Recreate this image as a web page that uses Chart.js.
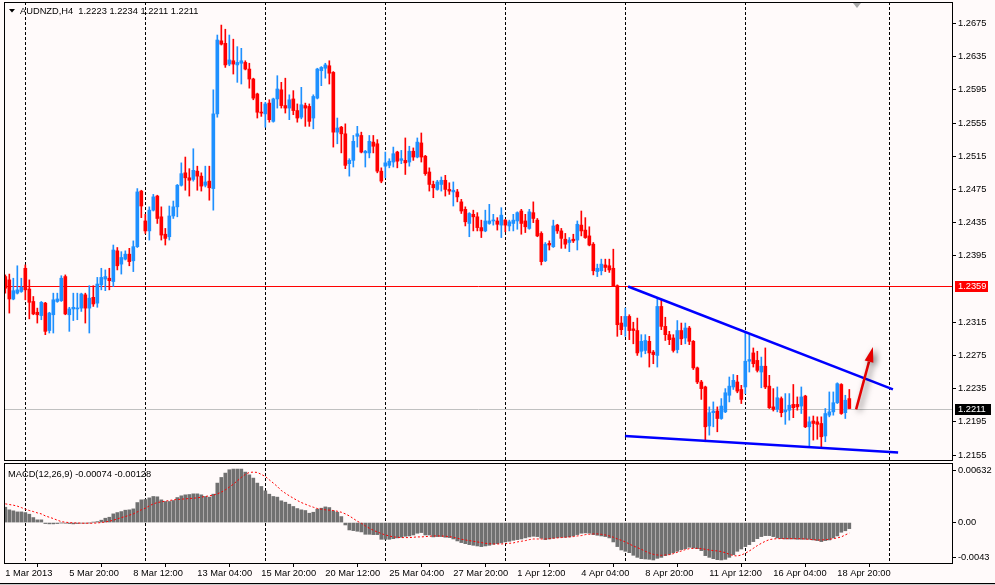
<!DOCTYPE html>
<html>
<head>
<meta charset="utf-8">
<script src="https://cdn.jsdelivr.net/npm/chart.js@4.4.1/dist/chart.umd.min.js"></script>
<style>
  html, body { margin: 0; padding: 0; background: #fffafa; }
  #wrap { position: relative; width: 995px; height: 585px; overflow: hidden; background: #fffafa; }
  canvas { position: absolute; left: 0; }
  #priceChart { top: 0; }
  #macdChart { top: 462px; }
</style>
</head>
<body>
<div id="wrap">
  <canvas id="priceChart" width="995" height="462"></canvas>
  <canvas id="macdChart" width="995" height="123"></canvas>
</div>
<script>
// AUDNZD H4 candles
const symbolTitle = "AUDNZD,H4  1.2223 1.2234 1.2211 1.2211";
const macdTitle = "MACD(12,26,9) -0.00074 -0.00128";

const opens = [
  1.2370,1.2366,1.2343,1.2350,1.2352,1.2380,1.2355,1.2340,1.2327,1.2323,
  1.2338,1.2305,1.2324,1.2340,1.2341,1.2370,1.2324,1.2331,1.2331,1.2332,
  1.2348,1.2332,1.2345,1.2338,1.2360,1.2367,1.2368,1.2364,1.2401,1.2385,
  1.2391,1.2397,1.2389,1.2406,1.2473,1.2437,1.2425,1.2450,1.2467,1.2442,
  1.2421,1.2418,1.2443,1.2454,1.2480,1.2495,1.2489,1.2487,1.2497,1.2491,
  1.2480,1.2485,1.2476,1.2566,1.2654,1.2651,1.2626,1.2630,1.2625,1.2627,
  1.2628,1.2620,1.2608,1.2590,1.2568,1.2566,1.2579,1.2557,1.2584,1.2595,
  1.2576,1.2573,1.2584,1.2570,1.2562,1.2576,1.2575,1.2561,1.2585,1.2618,
  1.2621,1.2624,1.2616,1.2544,1.2550,1.2542,1.2506,1.2510,1.2539,1.2540,
  1.2519,1.2519,1.2532,1.2530,1.2497,1.2503,1.2504,1.2508,1.2520,1.2510,
  1.2510,1.2508,1.2521,1.2514,1.2531,1.2515,1.2496,1.2481,1.2475,1.2481,
  1.2486,1.2475,1.2472,1.2472,1.2460,1.2451,1.2434,1.2445,1.2442,1.2429,
  1.2425,1.2434,1.2437,1.2437,1.2432,1.2438,1.2431,1.2434,1.2437,1.2449,
  1.2437,1.2428,1.2447,1.2438,1.2422,1.2389,1.2410,1.2406,1.2432,1.2425,
  1.2415,1.2411,1.2415,1.2414,1.2432,1.2426,1.2419,1.2409,1.2376,1.2377,
  1.2384,1.2383,1.2380,1.2359,1.2314,1.2310,1.2322,1.2307,1.2305,1.2280,
  1.2281,1.2292,1.2279,1.2275,1.2334,1.2310,1.2300,1.2296,1.2282,1.2305,
  1.2296,1.2308,1.2292,1.2260,1.2243,1.2237,1.2190,1.2206,1.2208,1.2199,
  1.2207,1.2227,1.2237,1.2243,1.2234,1.2237,1.2268,1.2278,1.2269,1.2255,
  1.2262,1.2238,1.2213,1.2210,1.2223,1.2207,1.2209,1.2216,1.2216,1.2214,
  1.2226,1.2189,1.2196,1.2195,1.2193,1.2178,1.2203,1.2207,1.2218,1.2240,
  1.2206,1.2223
];
const highs = [
  1.2372,1.2373,1.2368,1.2383,1.2368,1.2384,1.2366,1.2346,1.2332,1.2340,
  1.2339,1.2327,1.2350,1.2350,1.2371,1.2372,1.2333,1.2350,1.2350,1.2350,
  1.2350,1.2359,1.2359,1.2369,1.2380,1.2378,1.2380,1.2408,1.2405,1.2400,
  1.2401,1.2404,1.2413,1.2476,1.2474,1.2445,1.2454,1.2469,1.2468,1.2454,
  1.2428,1.2455,1.2461,1.2481,1.2507,1.2514,1.2500,1.2524,1.2503,1.2495,
  1.2503,1.2503,1.2595,1.2661,1.2673,1.2668,1.2661,1.2656,1.2647,1.2645,
  1.2630,1.2627,1.2609,1.2591,1.2580,1.2580,1.2583,1.2585,1.2612,1.2604,
  1.2609,1.2589,1.2594,1.2578,1.2598,1.2579,1.2578,1.2589,1.2621,1.2623,
  1.2627,1.2630,1.2617,1.2561,1.2551,1.2554,1.2512,1.2540,1.2551,1.2544,
  1.2522,1.2540,1.2540,1.2535,1.2501,1.2520,1.2512,1.2526,1.2521,1.2522,
  1.2537,1.2527,1.2525,1.2537,1.2543,1.2516,1.2501,1.2485,1.2486,1.2490,
  1.2492,1.2483,1.2484,1.2475,1.2463,1.2454,1.2447,1.2450,1.2447,1.2438,
  1.2450,1.2457,1.2445,1.2441,1.2453,1.2439,1.2438,1.2445,1.2448,1.2451,
  1.2445,1.2451,1.2460,1.2440,1.2424,1.2411,1.2413,1.2438,1.2433,1.2428,
  1.2422,1.2417,1.2421,1.2437,1.2449,1.2441,1.2430,1.2411,1.2385,1.2391,
  1.2391,1.2391,1.2403,1.2360,1.2322,1.2332,1.2324,1.2315,1.2320,1.2300,
  1.2300,1.2298,1.2281,1.2344,1.2342,1.2321,1.2304,1.2300,1.2317,1.2314,
  1.2314,1.2310,1.2293,1.2261,1.2245,1.2238,1.2213,1.2219,1.2213,1.2223,
  1.2235,1.2249,1.2252,1.2251,1.2239,1.2302,1.2300,1.2284,1.2280,1.2273,
  1.2284,1.2251,1.2235,1.2237,1.2225,1.2229,1.2229,1.2240,1.2225,1.2237,
  1.2227,1.2201,1.2202,1.2201,1.2201,1.2211,1.2231,1.2231,1.2242,1.2241,
  1.2227,1.2234
];
const lows = [
  1.2350,1.2326,1.2342,1.2349,1.2351,1.2342,1.2319,1.2324,1.2314,1.2318,
  1.2300,1.2302,1.2302,1.2339,1.2340,1.2324,1.2304,1.2317,1.2318,1.2328,
  1.2314,1.2302,1.2334,1.2333,1.2354,1.2353,1.2354,1.2358,1.2378,1.2373,
  1.2390,1.2383,1.2376,1.2405,1.2441,1.2422,1.2414,1.2449,1.2434,1.2414,
  1.2408,1.2414,1.2440,1.2442,1.2479,1.2474,1.2467,1.2485,1.2474,1.2473,
  1.2478,1.2462,1.2450,1.2562,1.2649,1.2622,1.2624,1.2614,1.2604,1.2602,
  1.2619,1.2597,1.2583,1.2561,1.2563,1.2550,1.2556,1.2556,1.2573,1.2573,
  1.2567,1.2559,1.2565,1.2556,1.2560,1.2551,1.2551,1.2548,1.2584,1.2600,
  1.2609,1.2602,1.2526,1.2530,1.2519,1.2500,1.2491,1.2502,1.2526,1.2519,
  1.2502,1.2513,1.2519,1.2495,1.2483,1.2489,1.2501,1.2502,1.2501,1.2506,
  1.2493,1.2503,1.2510,1.2513,1.2508,1.2492,1.2473,1.2465,1.2474,1.2473,
  1.2467,1.2469,1.2455,1.2460,1.2446,1.2431,1.2418,1.2425,1.2425,1.2417,
  1.2424,1.2433,1.2432,1.2426,1.2417,1.2424,1.2425,1.2425,1.2427,1.2421,
  1.2423,1.2427,1.2435,1.2418,1.2384,1.2388,1.2402,1.2405,1.2422,1.2404,
  1.2404,1.2400,1.2411,1.2402,1.2419,1.2416,1.2407,1.2372,1.2370,1.2372,
  1.2376,1.2375,1.2358,1.2298,1.2300,1.2298,1.2294,1.2289,1.2275,1.2273,
  1.2277,1.2261,1.2265,1.2261,1.2306,1.2293,1.2288,1.2279,1.2278,1.2288,
  1.2289,1.2288,1.2258,1.2241,1.2222,1.2171,1.2179,1.2189,1.2183,1.2198,
  1.2206,1.2219,1.2234,1.2230,1.2217,1.2229,1.2255,1.2261,1.2255,1.2236,
  1.2235,1.2211,1.2208,1.2207,1.2201,1.2192,1.2197,1.2200,1.2209,1.2205,
  1.2188,1.2164,1.2173,1.2174,1.2165,1.2171,1.2201,1.2203,1.2217,1.2204,
  1.2199,1.2211
];
const closes = [
  1.2356,1.2343,1.2353,1.2354,1.2357,1.2354,1.2339,1.2325,1.2324,1.2339,
  1.2304,1.2326,1.2342,1.2343,1.2368,1.2325,1.2331,1.2333,1.2332,1.2349,
  1.2332,1.2344,1.2337,1.2361,1.2369,1.2370,1.2365,1.2402,1.2383,1.2393,
  1.2397,1.2388,1.2406,1.2472,1.2455,1.2425,1.2450,1.2466,1.2440,1.2420,
  1.2416,1.2443,1.2454,1.2480,1.2494,1.2489,1.2486,1.2498,1.2491,1.2479,
  1.2484,1.2477,1.2566,1.2655,1.2650,1.2625,1.2631,1.2626,1.2628,1.2630,
  1.2620,1.2608,1.2585,1.2568,1.2567,1.2578,1.2559,1.2584,1.2596,1.2576,
  1.2573,1.2583,1.2570,1.2561,1.2577,1.2573,1.2557,1.2587,1.2620,1.2622,
  1.2625,1.2615,1.2544,1.2549,1.2542,1.2504,1.2510,1.2533,1.2542,1.2520,
  1.2521,1.2533,1.2527,1.2497,1.2485,1.2507,1.2509,1.2518,1.2509,1.2512,
  1.2507,1.2521,1.2514,1.2532,1.2514,1.2494,1.2481,1.2477,1.2484,1.2486,
  1.2475,1.2473,1.2474,1.2466,1.2449,1.2436,1.2446,1.2442,1.2429,1.2425,
  1.2437,1.2437,1.2438,1.2433,1.2444,1.2432,1.2436,1.2438,1.2447,1.2434,
  1.2430,1.2448,1.2440,1.2419,1.2388,1.2409,1.2408,1.2431,1.2425,1.2416,
  1.2409,1.2414,1.2413,1.2433,1.2425,1.2417,1.2408,1.2377,1.2380,1.2385,
  1.2381,1.2378,1.2359,1.2312,1.2306,1.2322,1.2305,1.2305,1.2278,1.2292,
  1.2293,1.2278,1.2276,1.2334,1.2310,1.2300,1.2294,1.2281,1.2305,1.2295,
  1.2308,1.2292,1.2260,1.2243,1.2235,1.2189,1.2206,1.2208,1.2199,1.2214,
  1.2230,1.2238,1.2245,1.2232,1.2222,1.2268,1.2270,1.2265,1.2257,1.2262,
  1.2237,1.2212,1.2210,1.2224,1.2206,1.2209,1.2215,1.2212,1.2213,1.2225,
  1.2189,1.2195,1.2193,1.2192,1.2177,1.2205,1.2207,1.2218,1.2241,1.2205,
  1.2221,1.2211
];

// MACD(12,26,9) main (histogram) and signal (dotted)
const macdHist = [
  0.00187,0.00155,0.00143,0.00130,0.00130,0.00122,0.00102,0.00061,0.00033,0.00033,
  -0.00012,-0.00016,-0.00016,-0.00012,-0.00004,-0.00008,-0.00012,-0.00016,-0.00012,-0.00008,
  -0.00008,-0.00004,0.00004,0.00012,0.00029,0.00053,0.00065,0.00106,0.00122,0.00134,
  0.00151,0.00155,0.00167,0.00244,0.00277,0.00281,0.00301,0.00318,0.00314,0.00277,
  0.00257,0.00257,0.00269,0.00305,0.00326,0.00338,0.00342,0.00350,0.00350,0.00338,
  0.00318,0.00310,0.00346,0.00481,0.00550,0.00603,0.00644,0.00652,0.00652,0.00652,
  0.00615,0.00582,0.00542,0.00481,0.00440,0.00387,0.00346,0.00318,0.00310,0.00265,
  0.00248,0.00224,0.00196,0.00171,0.00155,0.00147,0.00114,0.00126,0.00163,0.00175,
  0.00191,0.00183,0.00143,0.00126,0.00073,-0.00029,-0.00090,-0.00098,-0.00106,-0.00114,
  -0.00143,-0.00143,-0.00147,-0.00147,-0.00204,-0.00204,-0.00204,-0.00196,-0.00187,-0.00179,
  -0.00167,-0.00163,-0.00151,-0.00130,-0.00122,-0.00151,-0.00151,-0.00175,-0.00171,-0.00171,
  -0.00179,-0.00183,-0.00200,-0.00224,-0.00244,-0.00257,-0.00269,-0.00277,-0.00285,-0.00293,
  -0.00285,-0.00277,-0.00265,-0.00257,-0.00248,-0.00236,-0.00228,-0.00216,-0.00208,-0.00200,
  -0.00187,-0.00175,-0.00167,-0.00171,-0.00191,-0.00208,-0.00200,-0.00191,-0.00183,-0.00179,
  -0.00179,-0.00175,-0.00163,-0.00147,-0.00130,-0.00126,-0.00130,-0.00147,-0.00155,-0.00163,
  -0.00171,-0.00187,-0.00236,-0.00293,-0.00334,-0.00350,-0.00367,-0.00399,-0.00424,-0.00440,
  -0.00444,-0.00448,-0.00456,-0.00436,-0.00424,-0.00403,-0.00387,-0.00367,-0.00350,-0.00330,
  -0.00318,-0.00301,-0.00310,-0.00318,-0.00342,-0.00403,-0.00424,-0.00440,-0.00452,-0.00456,
  -0.00448,-0.00424,-0.00391,-0.00350,-0.00322,-0.00293,-0.00269,-0.00232,-0.00196,-0.00171,
  -0.00159,-0.00159,-0.00171,-0.00187,-0.00196,-0.00200,-0.00200,-0.00200,-0.00204,-0.00204,
  -0.00204,-0.00204,-0.00212,-0.00220,-0.00232,-0.00220,-0.00212,-0.00187,-0.00163,-0.00118,
  -0.00100,-0.00074
];
const macdSignal = [
  0.00228,0.00220,0.00212,0.00200,0.00183,0.00163,0.00147,0.00134,0.00118,0.00106,
  0.00081,0.00065,0.00049,0.00029,0.00012,0.00004,0.00000,-0.00004,-0.00004,-0.00008,
  -0.00008,-0.00008,-0.00008,-0.00004,0.00000,0.00008,0.00016,0.00029,0.00045,0.00061,
  0.00073,0.00090,0.00106,0.00130,0.00155,0.00175,0.00204,0.00228,0.00244,0.00253,
  0.00261,0.00269,0.00277,0.00281,0.00285,0.00289,0.00293,0.00297,0.00301,0.00310,
  0.00318,0.00326,0.00334,0.00350,0.00371,0.00399,0.00432,0.00468,0.00509,0.00550,
  0.00587,0.00611,0.00615,0.00611,0.00587,0.00562,0.00521,0.00481,0.00440,0.00391,
  0.00358,0.00326,0.00297,0.00269,0.00244,0.00224,0.00204,0.00187,0.00171,0.00163,
  0.00155,0.00151,0.00147,0.00138,0.00126,0.00106,0.00081,0.00049,0.00016,-0.00008,
  -0.00041,-0.00069,-0.00094,-0.00114,-0.00134,-0.00151,-0.00163,-0.00175,-0.00179,-0.00183,
  -0.00183,-0.00183,-0.00179,-0.00175,-0.00175,-0.00171,-0.00167,-0.00163,-0.00163,-0.00163,
  -0.00167,-0.00171,-0.00179,-0.00191,-0.00204,-0.00212,-0.00220,-0.00228,-0.00236,-0.00244,
  -0.00253,-0.00257,-0.00261,-0.00261,-0.00261,-0.00257,-0.00253,-0.00248,-0.00236,-0.00228,
  -0.00220,-0.00208,-0.00200,-0.00200,-0.00200,-0.00200,-0.00196,-0.00191,-0.00187,-0.00183,
  -0.00179,-0.00175,-0.00171,-0.00163,-0.00159,-0.00147,-0.00143,-0.00138,-0.00138,-0.00143,
  -0.00151,-0.00163,-0.00179,-0.00200,-0.00216,-0.00236,-0.00261,-0.00285,-0.00305,-0.00326,
  -0.00350,-0.00371,-0.00387,-0.00395,-0.00399,-0.00395,-0.00391,-0.00379,-0.00362,-0.00346,
  -0.00330,-0.00318,-0.00314,-0.00314,-0.00318,-0.00326,-0.00334,-0.00342,-0.00346,-0.00354,
  -0.00367,-0.00387,-0.00403,-0.00407,-0.00395,-0.00375,-0.00346,-0.00314,-0.00281,-0.00253,
  -0.00228,-0.00208,-0.00200,-0.00196,-0.00196,-0.00196,-0.00196,-0.00196,-0.00196,-0.00196,
  -0.00200,-0.00204,-0.00208,-0.00212,-0.00212,-0.00208,-0.00204,-0.00196,-0.00187,-0.00175,
  -0.00150,-0.00128
];

const timeLabels = ["1 Mar 2013", "5 Mar 20:00", "8 Mar 12:00", "13 Mar 04:00", "15 Mar 20:00",
  "20 Mar 12:00", "25 Mar 04:00", "27 Mar 20:00", "1 Apr 12:00", "4 Apr 04:00",
  "8 Apr 20:00", "11 Apr 12:00", "16 Apr 04:00", "18 Apr 20:00"];
const priceTicks = [1.2155, 1.2195, 1.2235, 1.2275, 1.2315, 1.2395, 1.2435,
  1.2475, 1.2515, 1.2555, 1.2595, 1.2635, 1.2675];
const macdTicks = [-0.0043, 0, 0.00632];
const macdTickLabels = ["-0.0043", "0.00", "0.00632"];

const levelPrice = 1.2359;  // red horizontal line
const bidPrice = 1.2211;    // grey bid line
// hand drawn objects: [bar index, price]
const upperTrend = [[155.7, 1.2358], [221.9, 1.2234]];
const lowerTrend = [[154.9, 1.2178], [223.2, 1.2158]];
const arrowLine = [[212.7, 1.2210], [216.9, 1.2285]];

// ---- look ----
const UP = "#1e90ff";
const DOWN = "#ff0000";
const BG = "#fffafa";
const FONT_FAMILY = '"Liberation Sans", Arial, sans-serif';
const FONT_SIZE = 9.3;
const FONT = FONT_SIZE + "px " + FONT_FAMILY;
const X_MIN = -0.33, X_MAX = 236.92;
const LABEL_STEP = 16;                       // bars between time labels
const gridBars = [5, 35, 65, 95, 125, 155, 185, 221];

const idx = opens.map((_, i) => i);
const candleColors = opens.map((o, i) => (closes[i] >= o ? UP : DOWN));

function fillBg(chart) {
  const ctx = chart.ctx;
  ctx.save();
  ctx.fillStyle = BG;
  ctx.fillRect(0, 0, chart.width, chart.height);
  ctx.restore();
}

function dashedGrid(chart) {
  const { ctx, chartArea: a, scales } = chart;
  ctx.save();
  ctx.strokeStyle = "#000";
  ctx.lineWidth = 1;
  ctx.setLineDash([3, 2]);
  gridBars.forEach(b => {
    const px = Math.round(scales.x.getPixelForValue(b)) + 0.5;
    ctx.beginPath();
    ctx.moveTo(px, a.top);
    ctx.lineTo(px, a.bottom);
    ctx.stroke();
  });
  ctx.restore();
}

function frame(chart) {
  const { ctx, chartArea: a } = chart;
  ctx.save();
  ctx.strokeStyle = "#000";
  ctx.lineWidth = 1;
  ctx.strokeRect(a.left + 0.5, a.top + 0.5, a.right - a.left - 1, a.bottom - a.top - 1);
  ctx.restore();
}

function hLine(chart, price, color) {
  const { ctx, chartArea: a, scales } = chart;
  const py = Math.round(scales.y.getPixelForValue(price)) + 0.5;
  ctx.save();
  ctx.strokeStyle = color;
  ctx.lineWidth = 1;
  ctx.beginPath();
  ctx.moveTo(a.left, py);
  ctx.lineTo(a.right, py);
  ctx.stroke();
  ctx.restore();
}

function priceBox(chart, price, color, w) {
  const { ctx, chartArea: a, scales } = chart;
  const py = Math.round(scales.y.getPixelForValue(price));
  ctx.save();
  ctx.fillStyle = color;
  ctx.fillRect(a.right + 2, py - 5, w, 11);
  ctx.fillStyle = "#fff";
  ctx.font = FONT;
  ctx.textBaseline = "middle";
  ctx.fillText(price.toFixed(4), a.right + 5, py + 0.5);
  ctx.restore();
}

function drawArrow(chart) {
  const { ctx, scales } = chart;
  const x0 = scales.x.getPixelForValue(arrowLine[0][0]);
  const y0 = scales.y.getPixelForValue(arrowLine[0][1]);
  const x1 = scales.x.getPixelForValue(arrowLine[1][0]);
  const y1 = scales.y.getPixelForValue(arrowLine[1][1]);
  const ang = Math.atan2(y1 - y0, x1 - x0);
  const headLen = 15, headW = 4.5;
  const bx = x1 - headLen * Math.cos(ang);
  const by = y1 - headLen * Math.sin(ang);
  ctx.save();
  ctx.shadowColor = "rgba(0,0,0,0.55)";
  ctx.shadowBlur = 6;
  ctx.shadowOffsetX = 3;
  ctx.shadowOffsetY = 2;
  ctx.strokeStyle = "#e60000";
  ctx.fillStyle = "#e60000";
  ctx.lineWidth = 2.5;
  ctx.beginPath();
  ctx.moveTo(x0, y0);
  ctx.lineTo(bx, by);
  ctx.stroke();
  ctx.beginPath();
  ctx.moveTo(x1, y1);
  ctx.lineTo(bx + headW * Math.sin(ang), by - headW * Math.cos(ang));
  ctx.lineTo(bx - headW * Math.sin(ang), by + headW * Math.cos(ang));
  ctx.closePath();
  ctx.fill();
  ctx.restore();
}

// Chart.js pads a vertical axis by half a label; MT4 lets the plot run edge to edge
function fitRightAxis(s) {
  s.width = 42;
  s.paddingTop = 0;
  s.paddingBottom = 0;
}

const priceDecor = {
  id: "priceDecor",
  beforeDraw(chart) { fillBg(chart); },
  beforeDatasetsDraw(chart) {
    dashedGrid(chart);
    hLine(chart, bidPrice, "#c0c0c0");
    hLine(chart, levelPrice, "#ff0000");
  },
  afterDatasetsDraw(chart) {
    drawArrow(chart);
  },
  afterDraw(chart) {
    const ctx = chart.ctx;
    frame(chart);
    priceBox(chart, levelPrice, "#ff0000", 33);
    priceBox(chart, bidPrice, "#000000", 36);
    ctx.save();
    // small menu triangle + title
    ctx.fillStyle = "#000";
    ctx.beginPath();
    ctx.moveTo(9, 9); ctx.lineTo(15, 9); ctx.lineTo(12, 12.5); ctx.closePath();
    ctx.fill();
    ctx.font = FONT;
    ctx.textBaseline = "alphabetic";
    ctx.fillText(symbolTitle, 20, 14);
    // chart shift marker
    ctx.fillStyle = "#a8a8a8";
    ctx.beginPath();
    ctx.moveTo(853, 3); ctx.lineTo(861, 3); ctx.lineTo(857, 8); ctx.closePath();
    ctx.fill();
    ctx.restore();
  }
};

const macdDecor = {
  id: "macdDecor",
  beforeDraw(chart) { fillBg(chart); },
  beforeDatasetsDraw(chart) { dashedGrid(chart); },
  afterDraw(chart) {
    const ctx = chart.ctx;
    frame(chart);
    ctx.save();
    ctx.fillStyle = "#000";
    ctx.font = FONT;
    ctx.fillText(macdTitle, 8, 15);
    ctx.fillStyle = "#000";
    ctx.fillRect(0, 121, chart.width, 1);
    ctx.fillStyle = "#c8c8c8";
    ctx.fillRect(0, 122, chart.width, 1);
    ctx.restore();
  }
};

const axisFont = { family: FONT_FAMILY, size: FONT_SIZE };

new Chart(document.getElementById("priceChart"), {
  type: "bar",
  data: {
    datasets: [
      {
        type: "line",
        data: upperTrend.map(p => ({ x: p[0], y: p[1] })),
        borderColor: "#0000ff",
        borderWidth: 2.5,
        pointRadius: 0,
        order: 0
      },
      {
        type: "line",
        data: lowerTrend.map(p => ({ x: p[0], y: p[1] })),
        borderColor: "#0000ff",
        borderWidth: 2.5,
        pointRadius: 0,
        order: 0
      },
      {
        data: idx.map(i => ({ x: i, y: [opens[i], closes[i]] })),
        backgroundColor: candleColors,
        barThickness: 3,
        minBarLength: 1,
        grouped: false,
        order: 1
      },
      {
        data: idx.map(i => ({ x: i, y: [lows[i], highs[i]] })),
        backgroundColor: candleColors,
        barThickness: 1,
        grouped: false,
        order: 2
      }
    ]
  },
  options: {
    responsive: false,
    animation: false,
    events: [],
    layout: { padding: { left: 4, top: 2, right: 0, bottom: 1 } },
    plugins: { legend: { display: false }, tooltip: { enabled: false } },
    scales: {
      x: { type: "linear", min: X_MIN, max: X_MAX, offset: false, bounds: "data", display: false },
      y: {
        position: "right",
        min: 1.21478,
        max: 1.27008,
        bounds: "data",
        afterBuildTicks: s => { s.ticks = priceTicks.map(v => ({ value: v })); },
        afterFit: fitRightAxis,
        grid: { drawOnChartArea: false, drawTicks: true, tickLength: 3, color: "#000" },
        border: { display: false },
        ticks: {
          padding: 2,
          color: "#000",
          font: axisFont,
          autoSkip: false,
          callback: v => Number(v).toFixed(4)
        }
      }
    }
  },
  plugins: [priceDecor]
});

new Chart(document.getElementById("macdChart"), {
  type: "bar",
  data: {
    datasets: [
      {
        type: "line",
        data: idx.map(i => ({ x: i, y: macdSignal[i] })),
        borderColor: "#ff0000",
        borderWidth: 1,
        borderDash: [2, 2],
        pointRadius: 0,
        order: 0
      },
      {
        data: idx.map(i => ({ x: i, y: macdHist[i] })),
        backgroundColor: "#707070",
        barThickness: 3,
        grouped: false,
        order: 1
      }
    ]
  },
  options: {
    responsive: false,
    animation: false,
    events: [],
    layout: { padding: { left: 4, top: 1, right: 0, bottom: 0 } },
    plugins: { legend: { display: false }, tooltip: { enabled: false } },
    scales: {
      x: {
        type: "linear",
        min: X_MIN,
        max: X_MAX,
        offset: false,
        bounds: "data",
        afterBuildTicks: s => { s.ticks = timeLabels.map((_, n) => ({ value: n * LABEL_STEP })); },
        afterFit: s => { s.height = 21; s.paddingLeft = 0; s.paddingRight = 0; },
        grid: { drawOnChartArea: false, drawTicks: true, tickLength: 3, color: "#000" },
        border: { display: false },
        ticks: {
          align: "start",
          autoSkip: false,
          maxRotation: 0,
          padding: 1,
          color: "#000",
          font: axisFont,
          callback: (v, i) => timeLabels[i]
        }
      },
      y: {
        position: "right",
        min: -0.00505,
        max: 0.00726,
        bounds: "data",
        afterBuildTicks: s => { s.ticks = macdTicks.map(v => ({ value: v })); },
        afterFit: fitRightAxis,
        grid: { drawOnChartArea: false, drawTicks: true, tickLength: 3, color: "#000" },
        border: { display: false },
        ticks: {
          padding: 2,
          color: "#000",
          font: axisFont,
          autoSkip: false,
          callback: (v, i) => macdTickLabels[i]
        }
      }
    }
  },
  plugins: [macdDecor]
});
</script>
</body>
</html>
